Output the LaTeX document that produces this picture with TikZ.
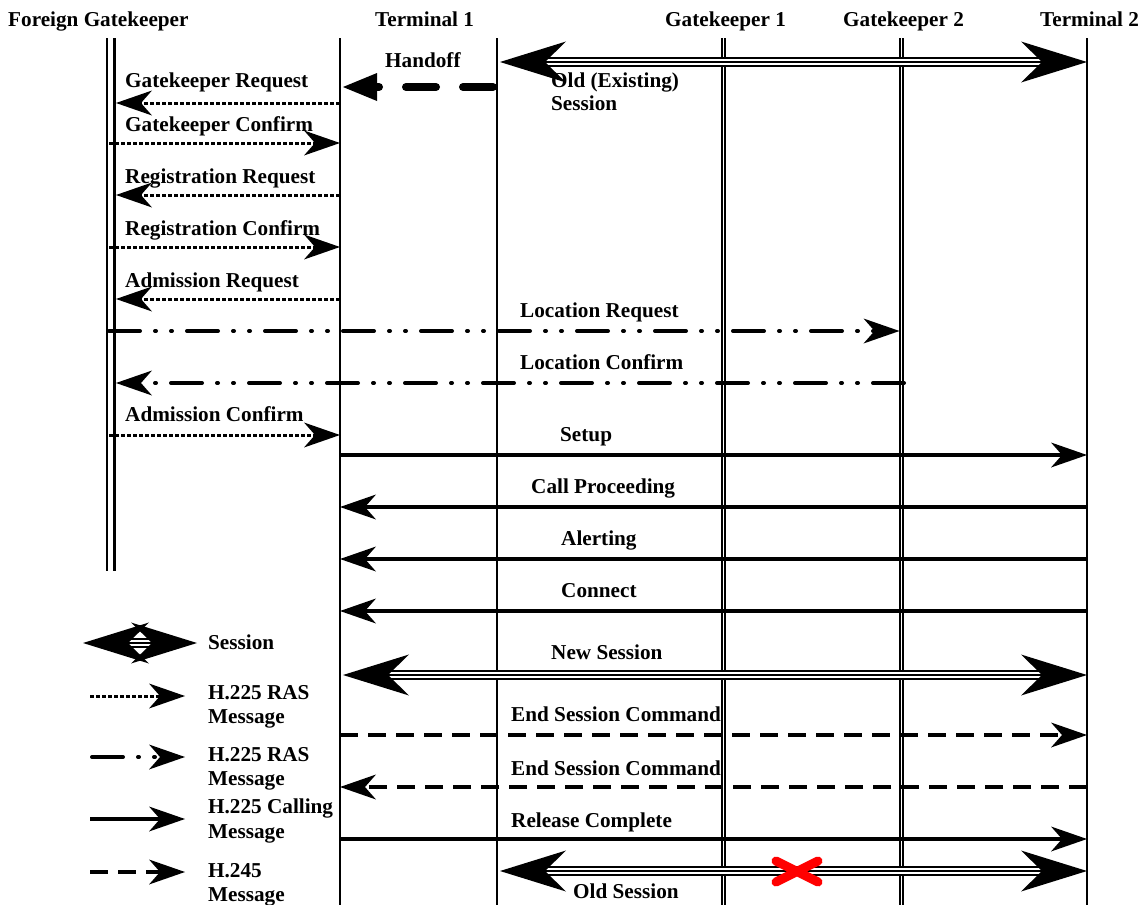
\documentclass[tikz,border=0pt]{standalone}
\usepackage{fontspec}
\setmainfont{Liberation Serif}
\usetikzlibrary{arrows.meta}
\begin{document}
\begin{tikzpicture}[x=1pt,y=-1pt,
  lbl/.style={font=\fontsize{21.2}{24}\selectfont\bfseries, inner sep=0pt, anchor=base west},
  life/.style={line width=1.3pt},
  gklife/.style={line width=1.8pt, double, double distance=1.5pt},
  fglife/.style={line width=2.8pt},
  msgtip/.tip={Stealth[length=36pt,width=25pt,inset=11pt,line width=0pt]},
  bigtip/.tip={Stealth[length=66pt,width=41pt,inset=21pt,line width=0pt]},
  hotip/.tip={Triangle[length=34pt,width=28pt,line width=0pt]},
  ras/.style={-msgtip, line width=3pt, dash pattern=on 4pt off 2pt},
  loc/.style={-msgtip, line width=4pt, line cap=round,
    dash pattern=on 31pt off 15pt on 1pt off 15pt on 1pt off 15pt},
  calling/.style={-msgtip, line width=3.3pt},
  hmsg/.style={-msgtip, line width=3.3pt, dash pattern=on 18pt off 10pt},
  handoff/.style={-hotip, line width=8pt, line cap=round, dash pattern=on 30pt off 27pt},
  sessline/.style={line width=1.3pt, double, double distance=6.7pt,
    shorten <=44pt, shorten >=44pt},
  sessmid/.style={bigtip-bigtip, line width=1.3pt},
]
\useasboundingbox (0,0) rectangle (1146,905);

% ---- lifeline ends ----
\coordinate (fgLt) at (107,38);   \coordinate (fgLb) at (107,571);
\coordinate (fgRt) at (114.5,38); \coordinate (fgRb) at (114.5,571);
\coordinate (fgtip) at (116,38);  \coordinate (fgsrc) at (109,38);
\coordinate (t1t) at (340,38);    \coordinate (t1b) at (340,905);
\coordinate (t1st) at (343,38);
\coordinate (t1nt) at (497,38);   \coordinate (t1nb) at (497,905);
\coordinate (t1nst) at (500,38);
\coordinate (g1t) at (723.3,38);  \coordinate (g1b) at (723.3,905);
\coordinate (g2t) at (901.7,38);  \coordinate (g2b) at (901.7,905);
\coordinate (g2in) at (899.5,38); \coordinate (g2out) at (904,38);
\coordinate (t2t) at (1087,38);   \coordinate (t2b) at (1087,905);

% ---- headers ----
\node[lbl] (hFG) at (8,26) {Foreign Gatekeeper};
\node[lbl] (hT1) at (375,26) {Terminal 1};
\node[lbl] (hG1) at (665,26) {Gatekeeper 1};
\node[lbl] (hG2) at (843,26) {Gatekeeper 2};
\node[lbl] (hT2) at (1040,26) {Terminal 2};

% ---- lifelines ----
\draw[fglife] (fgLt) -- (fgLb);
\draw[fglife] (fgRt) -- (fgRb);
\draw[life] (t1t) -- (t1b);
\draw[life] (t1nt) -- (t1nb);
\draw[gklife] (g1t) -- (g1b);
\draw[gklife] (g2t) -- (g2b);
\draw[life] (t2t) -- (t2b);

% ---- message rows ----
\coordinate (yHO) at (0,87);   \coordinate (yOES) at (0,62);
\coordinate (yGRQ) at (0,103); \coordinate (yGCF) at (0,143);
\coordinate (yRRQ) at (0,195); \coordinate (yRCF) at (0,247);
\coordinate (yARQ) at (0,299); \coordinate (yLRQ) at (0,331);
\coordinate (yLCF) at (0,383); \coordinate (yACF) at (0,435);
\coordinate (ySU) at (0,455);  \coordinate (yCP) at (0,507);
\coordinate (yAL) at (0,559);  \coordinate (yCN) at (0,611);
\coordinate (yNS) at (0,675);  \coordinate (yES1) at (0,735);
\coordinate (yES2) at (0,787); \coordinate (yRC) at (0,839);
\coordinate (yOS) at (0,871);

% old (existing) session
\draw[sessline] (t1nst |- yOES) -- (t2t |- yOES);
\draw[sessmid] (t1nst |- yOES) -- (t2t |- yOES);
\node[lbl] (lOES1) at (551,87) {Old (Existing)};
\node[lbl] (lOES2) at (551,110) {Session};

% handoff
\coordinate (hoS) at (493,87);
\draw[handoff] (hoS) -- (t1st |- yHO);
\node[lbl] (lHO) at (385,67) {Handoff};

% RAS exchange with the foreign gatekeeper
\draw[ras] (t1t |- yGRQ) -- (fgtip |- yGRQ);
\node[lbl] (lGRQ) at (125,87) {Gatekeeper Request};
\draw[ras] (fgsrc |- yGCF) -- (t1t |- yGCF);
\node[lbl] (lGCF) at (125,131) {Gatekeeper Confirm};
\draw[ras] (t1t |- yRRQ) -- (fgtip |- yRRQ);
\node[lbl] (lRRQ) at (125,183) {Registration Request};
\draw[ras] (fgsrc |- yRCF) -- (t1t |- yRCF);
\node[lbl] (lRCF) at (125,235) {Registration Confirm};
\draw[ras] (t1t |- yARQ) -- (fgtip |- yARQ);
\node[lbl] (lARQ) at (125,287) {Admission Request};
\draw[loc] (fgsrc |- yLRQ) -- (g2in |- yLRQ);
\node[lbl] (lLRQ) at (520,317) {Location Request};
\draw[loc] (g2out |- yLCF) -- (fgtip |- yLCF);
\node[lbl] (lLCF) at (520,369) {Location Confirm};
\draw[ras] (fgsrc |- yACF) -- (t1t |- yACF);
\node[lbl] (lACF) at (125,421) {Admission Confirm};

% call signalling
\draw[calling] (t1t |- ySU) -- (t2t |- ySU);
\node[lbl] (lSU) at (560,441) {Setup};
\draw[calling] (t2t |- yCP) -- (t1t |- yCP);
\node[lbl] (lCP) at (531,493) {Call Proceeding};
\draw[calling] (t2t |- yAL) -- (t1t |- yAL);
\node[lbl] (lAL) at (561,545) {Alerting};
\draw[calling] (t2t |- yCN) -- (t1t |- yCN);
\node[lbl] (lCN) at (561,597) {Connect};

% new session
\draw[sessline] (t1st |- yNS) -- (t2t |- yNS);
\draw[sessmid] (t1st |- yNS) -- (t2t |- yNS);
\node[lbl] (lNS) at (551,659) {New Session};

% tear-down of the old session
\draw[hmsg] (t1t |- yES1) -- (t2t |- yES1);
\node[lbl] (lES1) at (511,721) {End Session Command};
\draw[hmsg] (t2t |- yES2) -- (t1t |- yES2);
\node[lbl] (lES2) at (511,775) {End Session Command};
\draw[calling] (t1t |- yRC) -- (t2t |- yRC);
\node[lbl] (lRC) at (511,827) {Release Complete};

\draw[sessline] (t1nst |- yOS) -- (t2t |- yOS);
\draw[sessmid] (t1nst |- yOS) -- (t2t |- yOS);
\node[lbl] (lOS) at (573,898) {Old Session};
\coordinate (xa) at (776,861); \coordinate (xb) at (818,882);
\coordinate (xc) at (776,882); \coordinate (xd) at (818,861);
\draw[red, line width=9pt, line cap=round] (xa) -- (xb) (xc) -- (xd);

% ---- legend ----
\coordinate (kSa) at (83,643);  \coordinate (kSb) at (197,643);
\draw[sessline] (kSa) -- (kSb);
\draw[sessmid] (kSa) -- (kSb);
\node[lbl] (kS) at (208,649) {Session};

\coordinate (kRa) at (90,696);  \coordinate (kRb) at (185,696);
\draw[ras] (kRa) -- (kRb);
\node[lbl] (kR1) at (208,699) {H.225 RAS};
\node[lbl] (kR2) at (208,723) {Message};

\coordinate (kLa) at (92,757);  \coordinate (kLb) at (185,757);
\draw[loc] (kLa) -- (kLb);
\node[lbl] (kL1) at (208,761) {H.225 RAS};
\node[lbl] (kL2) at (208,785) {Message};

\coordinate (kCa) at (90,819);  \coordinate (kCb) at (185,819);
\draw[calling] (kCa) -- (kCb);
\node[lbl] (kC1) at (208,813) {H.225 Calling};
\node[lbl] (kC2) at (208,838) {Message};

\coordinate (kHa) at (90,872);  \coordinate (kHb) at (185,872);
\draw[hmsg] (kHa) -- (kHb);
\node[lbl] (kH1) at (208,877) {H.245};
\node[lbl] (kH2) at (208,901) {Message};
\end{tikzpicture}
\end{document}
